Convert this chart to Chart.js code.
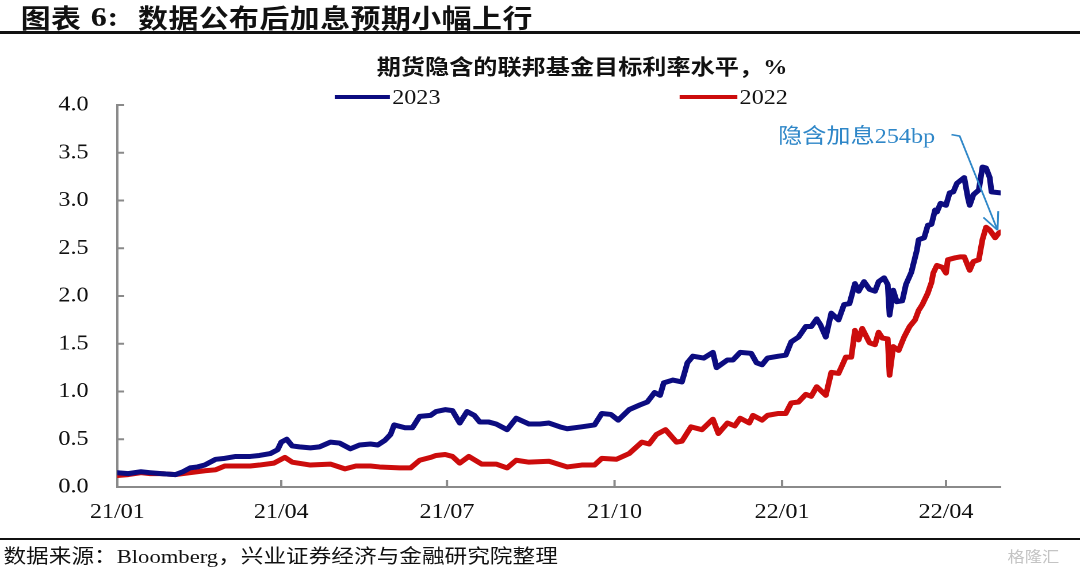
<!DOCTYPE html>
<html>
<head>
<meta charset="utf-8">
<script src="https://cdn.jsdelivr.net/npm/chart.js@4.4.0/dist/chart.umd.min.js"></script>
<style>
html,body{margin:0;padding:0;background:#fff;overflow:hidden;width:1080px;height:568px;}
#page{position:absolute;left:0;top:0;width:939px;height:568px;transform:scaleX(1.15016);transform-origin:0 0;}
.abs{position:absolute;white-space:nowrap;}
.hdr{top:1px;height:32px;line-height:32px;font-family:"Noto Sans CJK SC",sans-serif;font-weight:bold;font-size:26px;letter-spacing:0.4px;color:#111;}
.hdr.lat{font-family:"Liberation Serif",serif;font-size:28px;}
#hdrLine{left:0;top:31px;width:939px;height:2.5px;background:#111;}
#title{left:506px;top:52px;transform:translateX(-50%);font-family:"Noto Sans CJK SC",sans-serif;font-weight:bold;font-size:21px;line-height:26px;color:#111;}
#title .lat{font-family:"Liberation Serif",serif;}
.legLine{height:4px;top:95px;}
.legTxt{top:84px;line-height:26px;font-family:"Liberation Serif",serif;font-size:21px;color:#111;}
#ftLine{left:0;top:538px;width:939px;height:2px;background:#111;}
#ft{left:3px;top:544px;line-height:24px;font-family:"Liberation Serif","Noto Sans CJK SC",serif;font-size:19.7px;color:#111;}
#wm{left:876px;top:546px;line-height:20px;font-family:"Noto Sans CJK SC",sans-serif;font-size:15px;color:#c4c4c4;}
</style>
</head>
<body>
<div id="page">
  <canvas id="c" width="939" height="568" style="position:absolute;left:0;top:0;width:939px;height:568px;"></canvas>
  <div class="abs hdr" style="left:18px;">图表</div>
  <div class="abs hdr lat" style="left:79px;">6:</div>
  <div class="abs hdr" style="left:120px;">数据公布后加息预期小幅上行</div>
  <div id="hdrLine" class="abs"></div>
  <div id="title" class="abs">期货隐含的联邦基金目标利率水平，<span class="lat">%</span></div>
  <div class="abs legLine" style="left:291px;width:48px;background:#0c0c80;"></div>
  <div class="abs legTxt" style="left:341px;">2023</div>
  <div class="abs legLine" style="left:591px;width:50px;background:#cc0c0c;"></div>
  <div class="abs legTxt" style="left:643px;">2022</div>
  <div id="ftLine" class="abs"></div>
  <div id="ft" class="abs">数据来源：Bloomberg，兴业证券经济与金融研究院整理</div>
  <div id="wm" class="abs">格隆汇</div>
</div>
<script>
// x values: days since 2021-01-01
const tickDays   = [0, 90, 181, 273, 365, 455];
const tickLabels = ['21/01', '21/04', '21/07', '21/10', '22/01', '22/04'];

const days2023 = [0,6,13,18,24,32,36,40,44,48,54,59,65,73,78,84,88,90,93,96,100,106,111,117,122,128,133,139,143,147,150,152,158,162,166,172,175,180,184,188,192,196,199,204,208,214,219,226,232,237,243,247,255,262,266,271,275,281,287,291,295,298,300,305,310,313,316,322,327,329,335,338,342,348,351,354,357,363,367,370,374,378,381,384,386,389,392,396,399,402,405,407,410,413,416,418,421,423,424,426,428,431,433,436,439,440,443,445,447,449,450,452,455,457,459,461,463,465,467,468,470,473,475,477,479,480,485];
const rate2023 = [0.15,0.14,0.16,0.15,0.14,0.13,0.16,0.20,0.21,0.23,0.29,0.30,0.32,0.32,0.33,0.35,0.39,0.47,0.50,0.43,0.42,0.41,0.42,0.47,0.46,0.40,0.44,0.45,0.44,0.49,0.55,0.65,0.62,0.62,0.74,0.75,0.79,0.81,0.80,0.67,0.79,0.75,0.68,0.68,0.66,0.60,0.72,0.66,0.66,0.67,0.63,0.61,0.63,0.65,0.77,0.76,0.70,0.81,0.86,0.89,0.99,0.96,1.09,1.12,1.10,1.30,1.37,1.35,1.41,1.25,1.33,1.33,1.41,1.40,1.30,1.28,1.35,1.37,1.38,1.52,1.57,1.68,1.68,1.76,1.70,1.57,1.82,1.75,1.91,1.92,2.13,2.05,2.15,2.07,2.05,2.15,2.19,2.12,1.80,2.06,1.94,1.95,2.12,2.25,2.48,2.59,2.61,2.74,2.75,2.90,2.88,2.97,2.95,3.08,3.09,3.18,3.21,3.24,3.03,2.95,3.06,3.11,3.35,3.34,3.24,3.09,3.08];

const days2022 = [0,6,13,18,24,32,40,48,54,59,67,73,78,86,92,96,106,117,125,131,139,144,155,161,166,172,175,180,184,188,193,200,208,214,219,226,237,247,255,262,266,274,281,288,292,296,301,307,310,315,321,327,330,335,339,342,347,349,354,357,363,367,370,374,378,381,384,389,392,396,400,403,405,407,409,413,416,418,420,423,424,426,429,432,435,438,440,442,445,447,448,450,453,455,456,460,463,465,468,470,473,475,477,479,482,484,485];
const rate2022 = [0.12,0.13,0.15,0.14,0.14,0.13,0.15,0.17,0.18,0.22,0.22,0.22,0.23,0.25,0.31,0.26,0.23,0.24,0.19,0.22,0.22,0.21,0.20,0.20,0.28,0.31,0.33,0.34,0.32,0.25,0.32,0.24,0.24,0.20,0.28,0.26,0.27,0.21,0.23,0.23,0.30,0.29,0.35,0.47,0.45,0.55,0.60,0.47,0.48,0.63,0.60,0.71,0.56,0.67,0.64,0.72,0.67,0.75,0.70,0.75,0.77,0.77,0.88,0.89,0.97,0.95,1.05,0.96,1.20,1.19,1.36,1.36,1.64,1.54,1.66,1.51,1.49,1.62,1.56,1.55,1.17,1.47,1.43,1.57,1.68,1.75,1.85,1.91,2.03,2.14,2.24,2.32,2.30,2.24,2.38,2.40,2.41,2.41,2.27,2.36,2.38,2.59,2.72,2.69,2.61,2.66,2.67];

// annotation anchor points in data space [day, value]
const noteText = '隐含加息254bp';
const noteTextAt = [449, 3.66];
const notePath = [[458, 3.69], [462.5, 3.675], [483.3, 2.69]];

const SX = 1080 / 939;
const NAVY = '#0c0c80', RED = '#cc0c0c', AXIS = '#8a8a8a', BLUE = '#2f87c8';
const serif = "'Liberation Serif','Noto Sans CJK SC',serif";

const inwardTicks = {
  id: 'inwardTicks',
  beforeDatasetsDraw(chart) {
    const {ctx, chartArea: a, scales: {x, y}} = chart;
    ctx.save();
    ctx.strokeStyle = AXIS; ctx.lineWidth = 2;
    ctx.beginPath();
    y.ticks.forEach(t => { const py = y.getPixelForValue(t.value); ctx.moveTo(a.left, py); ctx.lineTo(a.left + 6, py); });
    x.ticks.forEach(t => { const px = x.getPixelForValue(t.value); ctx.moveTo(px, a.bottom); ctx.lineTo(px, a.bottom - 7); });
    ctx.stroke();
    ctx.restore();
  }
};

const note = {
  id: 'note',
  afterDatasetsDraw(chart) {
    const {ctx, scales: {x, y}} = chart;
    ctx.save();
    ctx.fillStyle = BLUE; ctx.strokeStyle = BLUE; ctx.lineWidth = 1.6;
    ctx.font = '21px ' + serif;
    ctx.textAlign = 'right'; ctx.textBaseline = 'middle';
    ctx.fillText(noteText, x.getPixelForValue(noteTextAt[0]), y.getPixelForValue(noteTextAt[1]));
    const pts = notePath.map(p => [x.getPixelForValue(p[0]), y.getPixelForValue(p[1])]);
    ctx.beginPath();
    pts.forEach((p, i) => i ? ctx.lineTo(p[0], p[1]) : ctx.moveTo(p[0], p[1]));
    ctx.stroke();
    // open arrow head, computed in on-screen (unstretched) space
    const tip = pts[pts.length - 1], prev = pts[pts.length - 2];
    const dx = (prev[0] - tip[0]) * SX, dy = prev[1] - tip[1];
    const ang = Math.atan2(dy, dx), L = 19;
    ctx.beginPath();
    [ -0.46, 0.42 ].forEach(o => {
      ctx.moveTo(tip[0] + Math.cos(ang + o) * L / SX, tip[1] + Math.sin(ang + o) * L);
      ctx.lineTo(tip[0], tip[1]);
    });
    ctx.stroke();
    ctx.restore();
  }
};

new Chart(document.getElementById('c'), {
  type: 'line',
  data: {
    datasets: [
      { label: '2023', data: days2023.map((d, i) => ({x: d, y: rate2023[i]})), borderColor: NAVY, borderWidth: 5 },
      { label: '2022', data: days2022.map((d, i) => ({x: d, y: rate2022[i]})), borderColor: RED, borderWidth: 5 }
    ]
  },
  options: {
    responsive: false,
    animation: false,
    devicePixelRatio: 2,
    layout: { padding: { left: 0, top: 105, right: 69, bottom: 0 } },
    elements: { point: { radius: 0 }, line: { tension: 0, borderJoinStyle: 'round', borderCapStyle: 'round' } },
    plugins: { legend: { display: false }, title: { display: false }, tooltip: { enabled: false } },
    scales: {
      x: {
        type: 'linear', min: 0, max: 485,
        afterBuildTicks: s => { s.ticks = tickDays.map(v => ({value: v})); },
        afterFit: s => { s.height = 81; },
        grid: { display: false, drawTicks: false },
        border: { display: true, color: AXIS, width: 2 },
        ticks: { autoSkip: false, maxRotation: 0, padding: 13, color: '#111', font: { family: serif, size: 21 },
                 callback: v => tickLabels[tickDays.indexOf(v)] }
      },
      y: {
        min: 0, max: 4,
        afterFit: s => { s.width = 102; },
        grid: { display: false, drawTicks: false },
        border: { display: true, color: AXIS, width: 2 },
        ticks: { stepSize: 0.5, padding: 25, color: '#111', font: { family: serif, size: 21 },
                 callback: v => v.toFixed(1) }
      }
    }
  },
  plugins: [inwardTicks, note]
});
</script>
</body>
</html>
